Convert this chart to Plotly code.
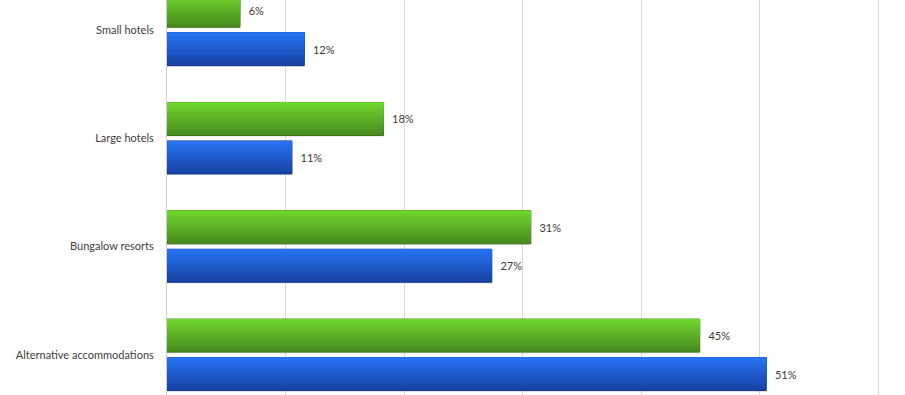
import plotly.graph_objects as go

categories = ["Small hotels", "Large hotels", "Bungalow resorts", "Alternative accommodations"]
green_values = [6.16, 18.26, 30.69, 44.94]
blue_values = [11.58, 10.54, 27.4, 50.55]
green_labels = ["6%", "18%", "31%", "45%"]
blue_labels = ["12%", "11%", "27%", "51%"]

FONT = "Lato, 'Open Sans', sans-serif"
PAD = "\u00a0\u00a0"

def lerp(c1, c2, t):
    return "rgb(%d,%d,%d)" % tuple(round(a + (b - a) * t) for a, b in zip(c1, c2))

fig = go.Figure()

slot = 0.355
bw = 0.305
N = 10

series = [
    (green_values, green_labels, -slot / 2, (74, 140, 30), (110, 212, 46), "rgb(60,115,25)"),
    (blue_values, blue_labels, slot / 2, (24, 68, 165), (38, 114, 242), "rgb(20,55,140)"),
]

for vals, labels, center, dark, light, edge in series:
    top = center - bw / 2
    fig.add_trace(go.Bar(
        y=categories, x=vals, orientation="h",
        width=bw, offset=top + 0.012,
        marker=dict(color="rgba(0,0,0,0.10)", line=dict(width=0)),
        hoverinfo="skip", showlegend=False,
    ))
    for k in range(N):
        w = bw * (N - k) / N
        t = k / (N - 1)
        fig.add_trace(go.Bar(
            y=categories, x=vals, orientation="h",
            width=w, offset=top,
            marker=dict(color=lerp(dark, light, t),
                        line=dict(width=1 if k == 0 else 0, color=edge)),
            text=[PAD + s for s in labels] if k == 0 else None,
            textposition="outside" if k == 0 else "none",
            textfont=dict(family=FONT, size=11, color="#3a3a3a"),
            cliponaxis=False,
            hoverinfo="skip", showlegend=False,
        ))

fig.update_layout(
    width=905, height=395,
    margin=dict(l=167, r=3, t=0, b=0),
    barmode="overlay",
    plot_bgcolor="white", paper_bgcolor="white",
    showlegend=False,
    xaxis=dict(range=[0, 62], dtick=10, tick0=0, showgrid=True, gridcolor="#d9d9d9",
               gridwidth=1, zeroline=False, showticklabels=False, showline=False),
    yaxis=dict(type="category", range=[3.371, -0.276], showgrid=False, ticks="",
               showline=True, linecolor="#d0d0d0", linewidth=1,
               ticklabelstandoff=10,
               tickfont=dict(family=FONT, size=11, color="#404040")),
)

fig.write_html("out.html", config={"displayModeBar": False},
               post_script="document.body.style.margin='0';document.body.style.overflow='hidden';")
